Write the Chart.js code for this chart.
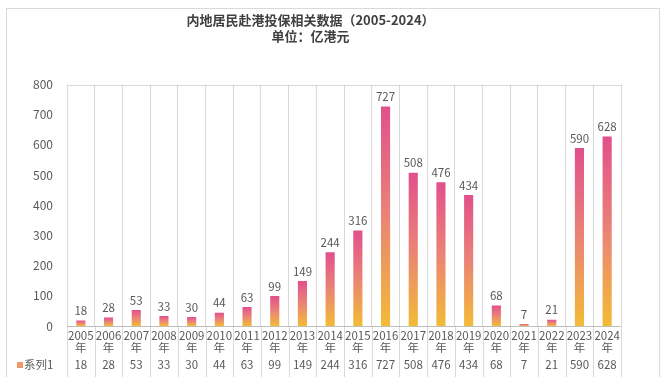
<!DOCTYPE html>
<html>
<head>
<meta charset="utf-8">
<script src="https://cdn.jsdelivr.net/npm/chart.js@4.4.1/dist/chart.umd.min.js"></script>
<style>
  html, body { margin: 0; padding: 0; background: #fff; }
  #wrap { width: 668px; height: 377px; }
</style>
</head>
<body>
<div id="wrap"><canvas id="barchart" width="668" height="377"></canvas></div>
<script>
// chart data
const years = ['2005', '2006', '2007', '2008', '2009', '2010', '2011', '2012', '2013', '2014',
    '2015', '2016', '2017', '2018', '2019', '2020', '2021', '2022', '2023', '2024'];
const values = [18, 28, 53, 33, 30, 44, 63, 99, 149, 244, 316, 727, 508, 476, 434, 68, 7, 21, 590, 628];
const seriesName = '系列1';
const titleLines = ['内地居民赴港投保相关数据（2005-2024）', '单位：亿港元'];

const FONT = '"Noto Sans CJK SC", "Open Sans", sans-serif';
const TEXT = '#595959';
const LINE = '#d9d9d9';

// pink at the top of each bar, orange at the bottom
function barGradient(context) {
    const chart = context.chart;
    const scales = chart.scales;
    if (!chart.chartArea || !scales.y || context.parsed === undefined) {
        return '#eb8a78';
    }
    const top = scales.y.getPixelForValue(context.parsed.y);
    const bottom = scales.y.getPixelForValue(0);
    if (bottom - top < 1) return '#e2508c';
    const g = chart.ctx.createLinearGradient(0, top, 0, bottom);
    g.addColorStop(0, '#e2508c');
    g.addColorStop(0.5, '#ea8376');
    g.addColorStop(1, '#f3bb36');
    return g;
}

// frame, value labels and the data table under the axis
const tablePlugin = {
    id: 'tablePlugin',
    beforeDraw(chart) {
        const c = chart.ctx;
        c.save();
        c.fillStyle = '#fff';
        c.fillRect(0, 0, chart.width, chart.height);
        c.strokeStyle = LINE;
        c.lineWidth = 1;
        c.strokeRect(6.5, 8.5, 653, 380);
        c.restore();
    },
    afterDraw(chart) {
        const c = chart.ctx;
        const x = chart.scales.x;
        const y = chart.scales.y;
        const area = chart.chartArea;
        const step = x.getPixelForValue(1) - x.getPixelForValue(0);
        c.save();

        // labels above the bars
        c.font = '11.5px ' + FONT;
        c.fillStyle = TEXT;
        c.textAlign = 'center';
        c.textBaseline = 'bottom';
        values.forEach(function (v, i) {
            c.fillText(String(v), x.getPixelForValue(i), y.getPixelForValue(v) - 4);
        });

        // table lines
        const tableBottom = 377;
        c.strokeStyle = LINE;
        c.lineWidth = 1;
        c.beginPath();
        for (let i = 0; i <= years.length; i++) {
            const px = Math.round(x.getPixelForValue(i) - step / 2) + 0.5;
            c.moveTo(px, area.bottom);
            c.lineTo(px, tableBottom);
        }
        c.moveTo(area.left, Math.round(area.top) + 0.5);
        c.lineTo(area.right, Math.round(area.top) + 0.5);
        c.stroke();

        c.strokeStyle = '#bfbfbf';
        c.beginPath();
        c.moveTo(area.left, Math.round(area.bottom) + 0.5);
        c.lineTo(area.right, Math.round(area.bottom) + 0.5);
        c.stroke();

        // table row
        c.textBaseline = 'middle';
        values.forEach(function (v, i) {
            c.fillText(String(v), x.getPixelForValue(i), 365);
        });
        c.fillStyle = '#ef9a66';
        c.fillRect(17, 362, 6, 6);
        c.fillStyle = TEXT;
        c.textAlign = 'left';
        c.fillText(seriesName, 24, 365);
        c.restore();
    }
};

const ctx = document.getElementById('barchart').getContext('2d');
const barchart = new Chart(ctx, {
    type: 'bar',
    data: {
        labels: years.map(y => [y, '年']),
        datasets: [{
            label: seriesName,
            data: values,
            backgroundColor: barGradient,
            borderWidth: 0,
            barPercentage: 0.33,
            categoryPercentage: 1
        }]
    },
    options: {
        responsive: false,
        animation: false,
        layout: {
            padding: { left: 0, right: 47, top: 0, bottom: 21 }
        },
        plugins: {
            legend: { display: false },
            tooltip: { enabled: false },
            title: {
                display: true,
                text: titleLines,
                color: '#404040',
                font: { family: FONT, size: 13, weight: 'bold', lineHeight: 1.25 },
                padding: { top: 12, bottom: 40 }
            }
        },
        scales: {
            x: {
                grid: {
                    offset: true,
                    color: LINE,
                    drawTicks: false
                },
                border: { display: false },
                ticks: {
                    color: TEXT,
                    padding: 3,
                    maxRotation: 0,
                    autoSkip: false,
                    font: { family: FONT, size: 11.5, lineHeight: 1.1 }
                },
                afterFit: function (scale) { scale.height = 30; }
            },
            y: {
                min: 0,
                max: 800,
                ticks: {
                    stepSize: 100,
                    color: TEXT,
                    padding: 6,
                    font: { family: FONT, size: 12 }
                },
                grid: { display: false },
                border: { display: false },
                afterFit: function (scale) { scale.width = 67; }
            }
        }
    },
    plugins: [tablePlugin]
});
</script>
</body>
</html>
